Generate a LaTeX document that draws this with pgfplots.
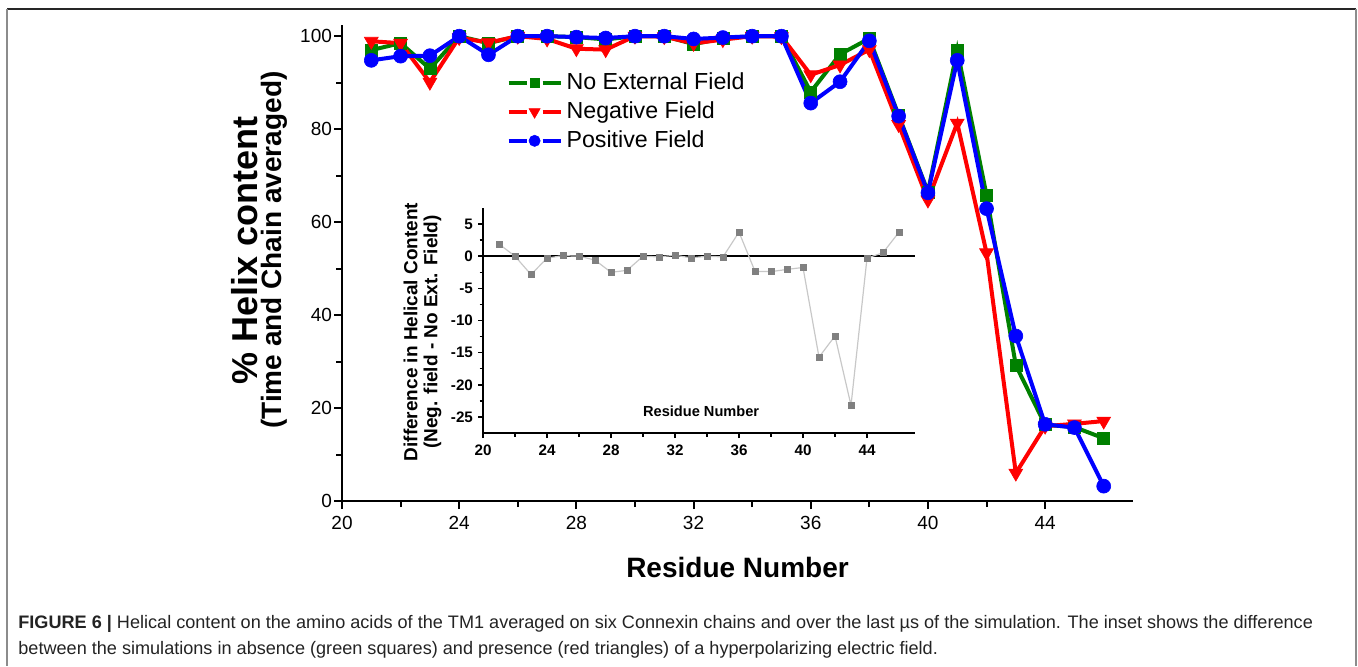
\documentclass[border=0pt]{standalone}
\usepackage{fontspec}
\setmainfont{Liberation Sans}
\usepackage{pgfplots}
\pgfplotsset{compat=1.18}

\definecolor{fgreen}{RGB}{0,128,0}
\definecolor{fred}{RGB}{255,0,0}
\definecolor{fblue}{RGB}{0,0,255}
\definecolor{insetline}{RGB}{200,200,200}
\definecolor{insetmark}{RGB}{128,128,128}
\definecolor{captxt}{RGB}{35,35,35}

\begin{document}
\begin{tikzpicture}
\path[use as bounding box] (0,0) rectangle (679pt,-333pt);
% figure frame
\draw[black!85, line width=0.8pt] (3.5pt,-4.5pt) -- (678pt,-4.5pt);
\draw[black!45, line width=1pt] (3.5pt,-4.5pt) -- (3.5pt,-333pt);
\draw[black!45, line width=1pt] (678pt,-4.5pt) -- (678pt,-333pt);

% main plot
\begin{axis}[
  at={(171pt,-250.5pt)}, anchor=south west,
  scale only axis, width=395.5pt, height=238pt,
  xmin=20, xmax=47, ymin=0, ymax=102.4,
  axis x line*=bottom, axis y line*=left,
  axis line style={line width=1pt},
  every tick/.style={black, line width=1pt},
  tick align=outside, major tick length=4pt, minor tick length=3pt,
  xtick={20,24,...,44}, ytick={0,20,...,100},
  minor x tick num=1, minor y tick num=1,
  tick label style={font=\fontsize{9.5}{11}\selectfont},
  yticklabel style={xshift=2.5pt},
  /pgf/number format/assume math mode=true,
  xlabel={Residue Number},
  xlabel style={font=\bfseries\fontsize{14}{16}\selectfont,
    at={(axis description cs:0.5,-0.160)}, anchor=base},
  ylabel={{\fontsize{18}{20}\selectfont \% Helix content}\\[0pt]{\fontsize{14}{16}\selectfont (Time and Chain averaged)}},
  ylabel style={align=center, font=\bfseries,
    at={(axis description cs:-0.105,0.527)}, anchor=center},
  clip=false,
  legend style={draw=none, fill=none, at={(axis description cs:0.2,0.917)},
    anchor=north west, font=\fontsize{11.6}{13}\selectfont, row sep=0.6pt},
  legend cell align=left,
  legend image code/.code={
    \draw[#1, mark=none] (0pt,0pt) -- (9pt,0pt);
    \draw[#1, mark=none] (17pt,0pt) -- (26pt,0pt);
    \draw[#1, only marks, every mark/.append style={scale=0.8}] plot coordinates {(13pt,0pt)};},
]
\addplot[fgreen, line width=2pt, mark=square*, mark size=3pt, mark options={line width=0.3pt}] coordinates {
(21,97.0) (22,98.5) (23,93.0) (24,100) (25,98.5) (26,100) (27,100) (28,99.8)
(29,99.3) (30,100) (31,100) (32,98.3) (33,99.5) (34,100) (35,100) (36,88.0)
(37,96.1) (38,99.5) (39,83.0) (40,66.5) (41,97.0) (42,65.8) (43,29.2) (44,16.4)
(45,15.9) (46,13.5)};
\addlegendentry{No External Field}
\addplot[fred, line width=2pt, mark=triangle*, mark size=4pt, mark options={rotate=180, line width=0.3pt}] coordinates {
(21,98.9) (22,98.5) (23,90.1) (24,99.7) (25,98.6) (26,100) (27,99.4) (28,97.3)
(29,97.1) (30,100) (31,99.9) (32,98.45) (33,99.25) (34,100) (35,99.9) (36,91.7)
(37,93.8) (38,97.1) (39,81.0) (40,64.75) (41,81.3) (42,53.4) (43,6.0) (44,16.1)
(45,16.6) (46,17.2)};
\addlegendentry{Negative Field}
\addplot[fblue, line width=2pt, mark=*, mark size=3.5pt, mark options={line width=0.3pt}] coordinates {
(21,94.8) (22,95.7) (23,95.8) (24,100) (25,96.0) (26,100) (27,100) (28,99.8)
(29,99.6) (30,100) (31,100) (32,99.4) (33,99.7) (34,100) (35,100) (36,85.6)
(37,90.2) (38,99.0) (39,82.8) (40,66.3) (41,94.8) (42,62.9) (43,35.5) (44,16.5)
(45,15.8) (46,3.2)};
\addlegendentry{Positive Field}
\end{axis}

% inset
\begin{axis}[
  at={(241.5pt,-216.5pt)}, anchor=south west,
  scale only axis, width=216pt, height=112.5pt,
  xmin=20, xmax=47, ymin=-27.5, ymax=7.5,
  axis x line*=bottom, axis y line*=left,
  axis line style={line width=0.75pt},
  every tick/.style={black, line width=0.75pt},
  tick align=outside, major tick length=2.5pt, minor tick length=1.75pt,
  xtick={20,24,...,44}, ytick={-25,-20,...,5},
  minor x tick num=1, minor y tick num=1,
  tick label style={font=\bfseries\fontsize{7.6}{9}\selectfont},
  yticklabel style={xshift=1pt},
  /pgf/number format/assume math mode=true,
  xlabel={Residue Number},
  xlabel style={font=\bfseries\fontsize{7.3}{8}\selectfont,
    at={(axis description cs:0.505,0.072)}, anchor=base},
  ylabel={Difference in Helical Content\\(Neg. field - No Ext. Field)},
  ylabel style={align=center, font=\bfseries\fontsize{9.5}{10}\selectfont,
    at={(axis description cs:-0.14,0.449)}, anchor=center},
  clip=false,
]
\addplot[black, line width=1pt, forget plot] coordinates {(20,0) (47,0)};
\addplot[insetline, line width=0.6pt, mark=square*, mark size=1.5pt,
  mark options={insetmark, line width=0.2pt}] coordinates {
(21,1.9) (22,0) (23,-2.85) (24,-0.3) (25,0.1) (26,0) (27,-0.6) (28,-2.5)
(29,-2.2) (30,0) (31,-0.1) (32,0.15) (33,-0.25) (34,0) (35,-0.1) (36,3.75)
(37,-2.35) (38,-2.4) (39,-2.05) (40,-1.75) (41,-15.7) (42,-12.4) (43,-23.2)
(44,-0.3) (45,0.55) (46,3.75)};
\end{axis}

% caption
\node[anchor=base west, inner sep=0, text=captxt, font=\fontsize{9.05}{10}\selectfont] at (9pt,-314pt)
  {\textbf{FIGURE 6 |} Helical content on the amino acids of the TM1 averaged on six Connexin chains and over the last µs of the simulation. The inset shows the difference};
\node[anchor=base west, inner sep=0, text=captxt, font=\fontsize{9.05}{10}\selectfont] at (9pt,-327pt)
  {between the simulations in absence (green squares) and presence (red triangles) of a hyperpolarizing electric field.};
\end{tikzpicture}
\end{document}
